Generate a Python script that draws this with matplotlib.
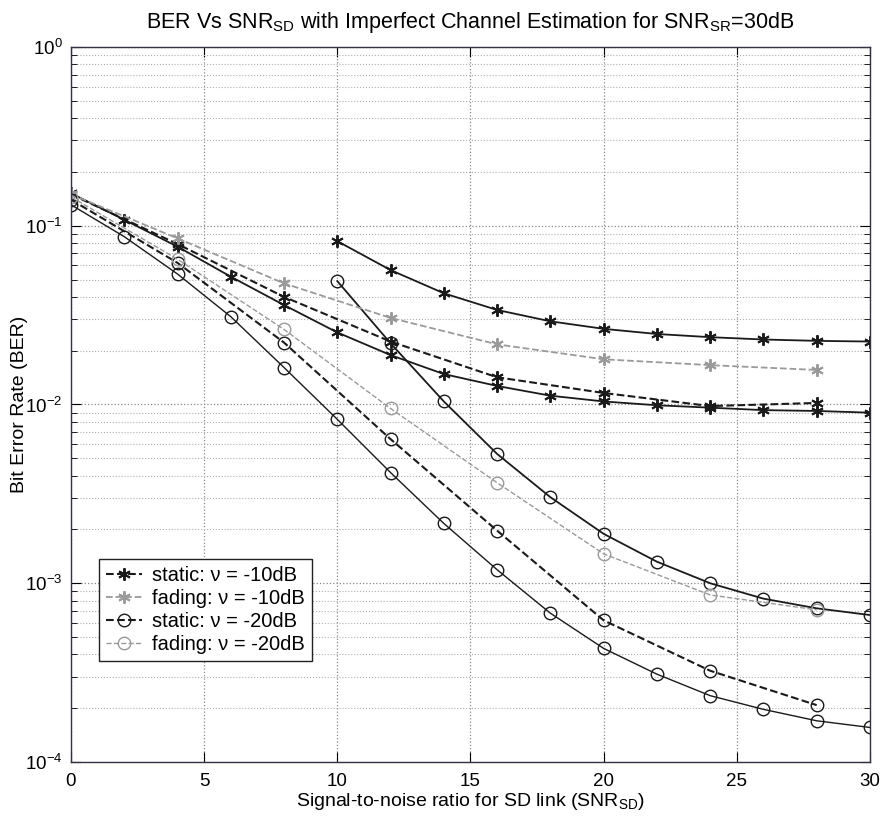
import numpy as np
import matplotlib
matplotlib.use("Agg")
import matplotlib.pyplot as plt
from matplotlib.ticker import LogLocator, NullFormatter

plt.rcParams['font.family'] = ['Liberation Sans', 'DejaVu Sans']
plt.rcParams['mathtext.fontset'] = 'custom'
plt.rcParams['mathtext.rm'] = 'Liberation Sans'
plt.rcParams['mathtext.it'] = 'Liberation Sans'

# =============================================================================
# DADOS
# =============================================================================
snr_full = [0, 2, 4, 6, 8, 10, 12, 14, 16, 18, 20, 22, 24, 26, 28, 30]
snr_half = [10, 12, 14, 16, 18, 20, 22, 24, 26, 28, 30]
snr_sim = [0, 4, 8, 12, 16, 20, 24, 28]

# curvas solidas (sem legenda)
star_solid_a = [0.152, 0.108, 0.0764, 0.0519, 0.036, 0.0253, 0.0189, 0.0148,
                0.0127, 0.0112, 0.0104, 0.0099, 0.0096, 0.0093, 0.0092, 0.0090]
star_solid_b = [0.082, 0.0565, 0.0419, 0.0338, 0.0292, 0.0265, 0.0248, 0.0238,
                0.0231, 0.0227, 0.0225]
circ_solid_a = [0.131, 0.0869, 0.0537, 0.031, 0.0161, 0.00826, 0.00416, 0.00216,
                0.00119, 0.00068, 0.000432, 0.00031, 0.000235, 0.000197, 0.00017, 0.000156]
circ_solid_b = [0.049, 0.022, 0.0104, 0.00529, 0.00303, 0.00189, 0.00132, 0.0010,
                0.00082, 0.000724, 0.000664]

# curvas tracejadas (legenda)
static_10 = [0.150, 0.079, 0.040, 0.0225, 0.0142, 0.0116, 0.0098, 0.0102]
fading_10 = [0.150, 0.085, 0.0476, 0.0305, 0.0217, 0.0179, 0.0166, 0.0156]
static_20 = [0.140, 0.062, 0.0222, 0.0064, 0.00197, 0.00062, 0.000324, 0.000208]
fading_20 = [0.145, 0.065, 0.0263, 0.0095, 0.00365, 0.00146, 0.00086, 0.00071]

labels = ['static: ν = -10dB', 'fading: ν = -10dB',
          'static: ν = -20dB', 'fading: ν = -20dB']

# =============================================================================
# GRAFICO
# =============================================================================
fig = plt.figure(figsize=(8.85, 8.26), dpi=100)
ax = fig.add_axes([0.0802, 0.0775, 0.9028, 0.8656])

black = '#1a1a1a'
gray = '#9a9a9a'
star = (6, 2, 0)

ax.semilogy(snr_full, star_solid_a, '-', color=black, marker=star, ms=9, mew=1.4, lw=1.3)
ax.semilogy(snr_half, star_solid_b, '-', color=black, marker=star, ms=9, mew=1.4, lw=1.3)
ax.semilogy(snr_full, circ_solid_a, '-', color=black, marker='o', mfc='none', ms=9, mew=1.0, lw=1.0)
ax.semilogy(snr_half, circ_solid_b, '-', color=black, marker='o', mfc='none', ms=9, mew=1.0, lw=1.3)

ax.semilogy(snr_sim, static_10, '--', color=black, marker=star, ms=9, mew=1.4, lw=1.5, label=labels[0])
ax.semilogy(snr_sim, fading_10, '--', color=gray, marker=star, ms=9, mew=1.4, lw=1.3, label=labels[1])
ax.semilogy(snr_sim, static_20, '--', color=black, marker='o', mfc='none', ms=9, mew=1.0, lw=1.5, label=labels[2])
ax.semilogy(snr_sim, fading_20, '--', color=gray, marker='o', mfc='none', ms=9, mew=1.0, lw=1.0, label=labels[3])

ax.set_xlim(0, 30)
ax.set_ylim(1e-4, 1)
ax.set_xticks([0, 5, 10, 15, 20, 25, 30])
ax.yaxis.set_major_locator(LogLocator(base=10, numticks=10))
ax.yaxis.set_minor_locator(LogLocator(base=10, subs=np.arange(2, 10), numticks=20))
ax.yaxis.set_minor_formatter(NullFormatter())

ax.tick_params(which='both', direction='in', top=True, right=True, labelsize=13.5)
ax.tick_params(which='major', length=7)
ax.tick_params(axis='x', which='major', pad=8)
ax.tick_params(axis='y', which='major', pad=6)
ax.tick_params(which='minor', length=4)
ax.grid(True, which='major', linestyle=':', color='#8a8a8a', lw=0.9)
ax.grid(True, which='minor', axis='y', linestyle=':', color='#b0b0b0', lw=0.8)
for s in ax.spines.values():
    s.set_color('#333344')
    s.set_linewidth(1.0)

ax.set_title('BER Vs SNR$_{\\mathrm{SD}}$ with Imperfect Channel Estimation for SNR$_{\\mathrm{SR}}$=30dB',
             fontsize=15.5, pad=14)
ax.set_xlabel('Signal-to-noise ratio for SD link (SNR$_{\\mathrm{SD}}$)', fontsize=14, labelpad=1)
ax.set_ylabel('Bit Error Rate (BER)', fontsize=14)
ax.yaxis.set_label_coords(-0.054, 0.5)

leg = ax.legend(loc='lower left', bbox_to_anchor=(0.035, 0.141), borderaxespad=0,
                fontsize=14.5, handlelength=1.8, handletextpad=0.5, labelspacing=0.2,
                borderpad=0.35, fancybox=False, framealpha=1, edgecolor='#222222')
leg.get_frame().set_linewidth(1.0)

plt.savefig('out.png', dpi=100)
